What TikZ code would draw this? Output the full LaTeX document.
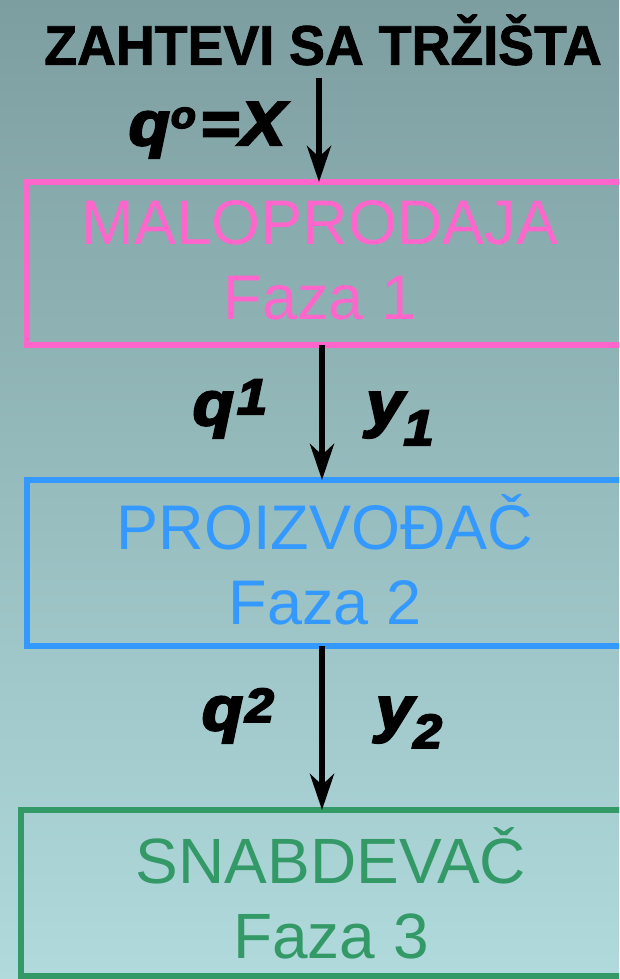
\documentclass[tikz,border=0pt]{standalone}
\usepackage{fontspec}
\setmainfont{Liberation Sans}
\newfontfamily\heavyfont[BoldItalicFeatures={FakeBold=4}, BoldFeatures={FakeBold=1.5}]{Liberation Sans}
\usetikzlibrary{arrows.meta}
\definecolor{bgtop}{RGB}{125,158,160}
\definecolor{bgbot}{RGB}{176,218,220}
\definecolor{cpink}{RGB}{255,102,204}
\definecolor{cblue}{RGB}{51,153,255}
\definecolor{cgreen}{RGB}{51,153,102}
\tikzset{
  boxframe/.style={draw=#1, line width=6pt, inner sep=0pt},
  boxtext/.style={text=#1, align=center, font=\fontsize{63}{75}\selectfont, inner sep=0pt},
  lbl/.style={font=\heavyfont\fontsize{62}{62}\selectfont\bfseries\itshape, inner sep=0pt, anchor=base, xscale=1.08},
  arr/.style={line width=6pt, -{Stealth[length=36pt,width=24pt,inset=11pt]}},
}
\newcommand{\scriptat}[3]{\raisebox{#2pt}{\fontsize{#1}{#1}\selectfont #3}}
\begin{document}
\begin{tikzpicture}[x=1pt,y=-1pt]
\useasboundingbox (0,0) rectangle (619,979);
\clip (0,0) rectangle (619,979);
\shade[top color=bgtop, bottom color=bgbot] (0,0) rectangle (619,979);

\node[font=\heavyfont\fontsize{56}{56}\selectfont\bfseries, inner sep=0pt, xscale=0.96] (title) at (323,40) {ZAHTEVI SA TRŽIŠTA};

% boxes
\draw[boxframe=cpink] (27,182) rectangle (660,345);
\coordinate (b1n) at (319,182);
\coordinate (b1s) at (322,345);
\draw[boxframe=cblue] (27,480) rectangle (660,646);
\coordinate (b2n) at (322,480);
\coordinate (b2s) at (322,646);
\draw[boxframe=cgreen] (21,810) rectangle (660,976);
\coordinate (b3n) at (322,810);

\node[boxtext=cpink] (t1) at (320,260) {MALOPRODAJA\\Faza 1};
\node[boxtext=cblue] (t2) at (325,560) {PROIZVOĐAČ\\Faza 2};
\node[boxtext=cgreen, font=\fontsize{64}{75}\selectfont] (t3) at (331,893) {SNABDEVAČ\\Faza 3};

% arrows
\coordinate (a0) at (319,78);
\draw[arr] (a0) -- (b1n);
\draw[arr] (b1s) -- (b2n);
\draw[arr] (b2s) -- (b3n);

% labels
\node[lbl] (l0) at (207,145) {q\kern1pt\scriptat{38}{17}{o}\kern4pt=\kern1pt X};
\node[lbl] (l1) at (230,425) {q\kern3pt\scriptat{50}{11}{1}};
\node[lbl] (l2) at (400,425) {y\scriptat{50}{-20}{1}};
\node[lbl] (l3) at (238,730) {q\kern2pt\scriptat{48}{8}{2}};
\node[lbl] (l4) at (409,730) {y\scriptat{48}{-18}{2}};
\end{tikzpicture}
\end{document}
